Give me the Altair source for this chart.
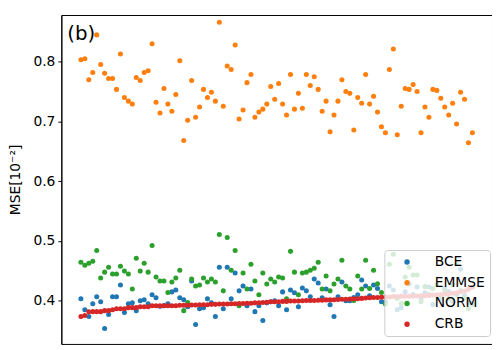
import altair as alt
import pandas as pd

series_names = ["BCE", "EMMSE", "NORM", "CRB"]
series_colors = ["#1f77b4", "#ff7f0e", "#2ca02c", "#d62728"]

bce = [0.4028, 0.3846, 0.3731, 0.3946, 0.4062, 0.3979, 0.3532, 0.3764, 0.4062, 0.4062,
       0.4260, 0.3797, 0.3946, 0.3962, 0.3830, 0.3995, 0.4012, 0.3946, 0.4095, 0.4045,
       0.3904, 0.3914, 0.3946, 0.4144, 0.4177, 0.4045, 0.4012, 0.3896, 0.4326, 0.3598,
       0.3863, 0.3880, 0.4028, 0.3962, 0.3731, 0.4558, 0.3863, 0.4558, 0.4028, 0.4459,
       0.4161, 0.4244, 0.3913, 0.4194, 0.3813, 0.3913, 0.3664, 0.3960, 0.3980, 0.3995,
       0.3913, 0.4144, 0.3846, 0.4177, 0.4128, 0.3896, 0.4210, 0.4161, 0.4062, 0.4359,
       0.4293, 0.4045, 0.4194, 0.3929, 0.3731, 0.4062, 0.4310, 0.3995, 0.3995, 0.4050,
       0.4095, 0.4343, 0.4244, 0.4080, 0.4260, 0.4200, 0.3979, 0.3980, 0.4244, 0.4177,
       0.3846, 0.3880, 0.4144, 0.4277, 0.4100, 0.4227, 0.4035, 0.4128, 0.4227, 0.3934,
       0.4085, 0.4035, 0.4200, 0.4150, 0.3983, 0.4100, 0.4525, 0.4080, 0.3962, 0.3934]

emmse = [0.8033, 0.8050, 0.7700, 0.7820, 0.8450, 0.7955, 0.7806, 0.7720, 0.7720, 0.7537,
         0.8130, 0.7400, 0.7340, 0.7290, 0.7735, 0.7686, 0.7820, 0.7850, 0.8300, 0.7320,
         0.7140, 0.7550, 0.7290, 0.7170, 0.7450, 0.8017, 0.6680, 0.7020, 0.7686, 0.7070,
         0.7240, 0.7537, 0.7400, 0.7490, 0.7340, 0.8660, 0.7255, 0.7930, 0.7870, 0.8280,
         0.7040, 0.7190, 0.7650, 0.7785, 0.7070, 0.7156, 0.7206, 0.7290, 0.7586, 0.7370,
         0.7636, 0.7290, 0.7106, 0.7785, 0.7206, 0.7470, 0.7220, 0.7785, 0.7600, 0.7750,
         0.7537, 0.7170, 0.7340, 0.6825, 0.7106, 0.7340, 0.7700, 0.7500, 0.7470, 0.6858,
         0.7400, 0.7305, 0.7785, 0.7290, 0.7420, 0.7156, 0.6910, 0.6810, 0.7870, 0.8215,
         0.6775, 0.7255, 0.7550, 0.7537, 0.7620, 0.7500, 0.6810, 0.7240, 0.7070, 0.7537,
         0.7520, 0.7390, 0.7240, 0.7106, 0.7305, 0.6957, 0.7490, 0.7370, 0.6643, 0.6810]

norm = [0.4641, 0.4591, 0.4624, 0.4657, 0.4839, 0.4376, 0.4475, 0.4558, 0.4442, 0.4442,
        0.4575, 0.4492, 0.4442, 0.4194, 0.4707, 0.4492, 0.4624, 0.4475, 0.4922, 0.4393,
        0.4326, 0.4326, 0.4133, 0.4310, 0.4376, 0.4508, 0.3830, 0.3967, 0.4359, 0.4244,
        0.4260, 0.4376, 0.4310, 0.4359, 0.4310, 0.5104, 0.4161, 0.5054, 0.4508, 0.4839,
        0.3913, 0.4459, 0.4194, 0.4608, 0.4326, 0.4095, 0.4459, 0.4277, 0.4359, 0.4310,
        0.4393, 0.4376, 0.4028, 0.4823, 0.4475, 0.4095, 0.4459, 0.4475, 0.4508, 0.4541,
        0.4641, 0.4194, 0.4409, 0.4161, 0.4277, 0.4359, 0.4674, 0.4244, 0.4194, 0.4000,
        0.4409, 0.4194, 0.4674, 0.4200, 0.4508, 0.4280, 0.4133, 0.3939, 0.4608, 0.4773,
        0.4035, 0.3950, 0.4393, 0.4558, 0.4426, 0.4426, 0.3979, 0.4232, 0.4100, 0.4200,
        0.4265, 0.4067, 0.4166, 0.4035, 0.4265, 0.4612, 0.4166, 0.4035, 0.3863, 0.3950]

crb = [0.3730, 0.3747, 0.3810, 0.3813, 0.3813, 0.3813, 0.3830, 0.3830, 0.3846, 0.3863,
       0.3863, 0.3863, 0.3880, 0.3880, 0.3880, 0.3896, 0.3896, 0.3896, 0.3913, 0.3913,
       0.3913, 0.3913, 0.3913, 0.3913, 0.3913, 0.3920, 0.3920, 0.3920, 0.3925, 0.3925,
       0.3930, 0.3930, 0.3930, 0.3935, 0.3935, 0.3940, 0.3940, 0.3940, 0.3946, 0.3946,
       0.3950, 0.3950, 0.3955, 0.3955, 0.3960, 0.3960, 0.3965, 0.3970, 0.3980, 0.3980,
       0.3980, 0.3985, 0.3985, 0.3990, 0.3990, 0.3990, 0.3995, 0.4000, 0.4000, 0.4000,
       0.4005, 0.4005, 0.4010, 0.4010, 0.4012, 0.4015, 0.4020, 0.4020, 0.4025, 0.4030,
       0.4030, 0.4035, 0.4040, 0.4045, 0.4050, 0.4050, 0.4055, 0.4060, 0.4060, 0.4065,
       0.4065, 0.4070, 0.4070, 0.4070, 0.4075, 0.4075, 0.4080, 0.4080, 0.4085, 0.4090,
       0.4095, 0.4100, 0.4105, 0.4110, 0.4120, 0.4130, 0.4145, 0.4160, 0.4190, 0.4220]

y_ticks = [0.4, 0.5, 0.6, 0.7, 0.8]
panel_label = "(b)"

rows = []
for name, vals in zip(series_names, [bce, emmse, norm, crb]):
    for i, v in enumerate(vals):
        rows.append({"idx": i, "mse": v, "method": name})
df = pd.DataFrame(rows)

font = "DejaVu Sans"

points = alt.Chart(df).mark_circle(size=26, opacity=1).encode(
    x=alt.X("idx:Q", axis=None, scale=alt.Scale(domain=[-4.95, 103.95], nice=False, zero=False)),
    y=alt.Y("mse:Q",
            scale=alt.Scale(domain=[0.3272, 0.8783], nice=False, zero=False),
            axis=alt.Axis(values=y_ticks, format=".1f", grid=False, tickSize=3.5,
                          tickColor="black", domainColor="black", labelColor="black",
                          labelFontSize=14, labelFont=font, labelPadding=3,
                          title="MSE[10⁻²]", titleFont=font, titleFontSize=14,
                          titleFontWeight="normal", titleColor="black", titlePadding=11)),
    color=alt.Color("method:N",
                    scale=alt.Scale(domain=series_names, range=series_colors),
                    legend=alt.Legend(title=None, orient="none", legendX=327, legendY=238,
                                      symbolType="circle", symbolSize=30, symbolStrokeWidth=0,
                                      labelFont=font, labelFontSize=14, labelColor="black",
                                      fillColor="rgba(255,255,255,0.8)", strokeColor="#cccccc",
                                      cornerRadius=3, padding=5, rowPadding=7,
                                      symbolOffset=11, labelOffset=21)),
)

label = alt.Chart(pd.DataFrame({"t": [panel_label]})).mark_text(
    align="left", baseline="alphabetic", fontSize=20, font=font, color="black"
).encode(text="t:N", x=alt.value(6), y=alt.value(25))

chart = alt.layer(points, label).properties(
    width=436, height=333,
    padding={"left": 54, "top": 5, "right": 0, "bottom": 0},
    autosize=alt.AutoSizeParams(type="none"),
).configure_view(stroke="black", strokeWidth=1)

chart.save("out.html", embed_options={"renderer": "svg", "actions": False})
